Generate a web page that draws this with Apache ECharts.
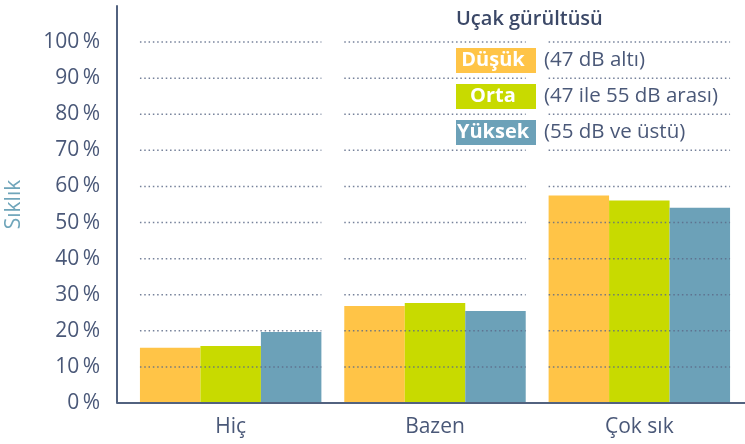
<!DOCTYPE html>
<html>
<head>
<meta charset="utf-8">
<script src="https://cdn.jsdelivr.net/npm/echarts@6/dist/echarts.min.js"></script>
<style>
html,body{margin:0;padding:0;background:#fff;}
#main{width:745px;height:444px;}
</style>
</head>
<body>
<div id="main"></div>
<script>
// kategoriler ve seriler
var categories = ['Hiç', 'Bazen', 'Çok sık'];
var seriesNames = ['Düşük', 'Orta', 'Yüksek'];
var seriesDesc = ['(47 dB altı)', '(47 ile 55 dB arası)', '(55 dB ve üstü)'];
var dusuk = [15.3, 26.9, 57.5];
var orta = [15.8, 27.7, 56.1];
var yuksek = [19.7, 25.5, 54.1];
var yTicks = [10, 20, 30, 40, 50, 60, 70, 80, 90, 100];

var colors = ['#FFC447', '#C8DA00', '#6CA1B8'];
var textCol = '#4a5878';
var font = 'Open Sans';
var catGap = 0.112;

var chart = echarts.init(document.getElementById('main'));

// nokta cizgiler (her kategori icin ayri parca)
var gridData = [];
for (var c = 0; c < categories.length; c++) {
	for (var t = 0; t < yTicks.length; t++) {
		gridData.push([c, yTicks[t]]);
	}
}

var rich = {
	d: {color: textCol, fontSize: 20.5, fontFamily: font, padding: [0, 0, 0, 8]}
};
for (var i = 0; i < seriesNames.length; i++) {
	rich['b' + i] = {
		backgroundColor: colors[i],
		color: '#fff',
		fontWeight: 'bold',
		fontSize: 20,
		fontFamily: font,
		width: 74,
		height: 25,
		lineHeight: 25,
		align: 'right',
		padding: [0, 6, 0, 0]
	};
}

var barSeries = [dusuk, orta, yuksek].map(function (d, i) {
	return {
		name: seriesNames[i],
		type: 'bar',
		data: d,
		barGap: 0,
		barCategoryGap: (catGap * 100) + '%',
		itemStyle: {color: colors[i]},
		z: 2
	};
});

var option = {
	animation: false,
	title: {
		text: 'Uçak gürültüsü',
		left: 456,
		top: 9,
		padding: 0,
		textStyle: {color: '#3b4867', fontSize: 20, fontWeight: 600, fontFamily: font}
	},
	legend: {
		data: seriesNames,
		orient: 'vertical',
		left: 451,
		top: 48,
		padding: 0,
		itemGap: 11,
		itemWidth: 0,
		itemHeight: 25,
		selectedMode: false,
		formatter: function (name) {
			var idx = seriesNames.indexOf(name);
			return '{b' + idx + '|' + name + '}{d|' + seriesDesc[idx] + '}';
		},
		textStyle: {rich: rich}
	},
	grid: {
		left: 128.5,
		right: 3.5,
		top: 6,
		bottom: 41,
		containLabel: false,
		outerBoundsMode: 'none'
	},
	xAxis: {
		type: 'category',
		data: categories,
		axisLine: {show: false},
		axisTick: {show: false},
		axisLabel: {color: textCol, fontSize: 21, fontFamily: font, margin: 14}
	},
	yAxis: {
		type: 'value',
		min: 0,
		max: 110,
		interval: 10,
		offset: 11.5,
		z: 3,
		name: 'Sıklık',
		nameLocation: 'middle',
		nameGap: 92,
		nameTextStyle: {color: '#6fa5ba', fontSize: 21, fontFamily: font},
		axisLine: {show: true, lineStyle: {color: '#52627f', width: 2}},
		axisTick: {show: false},
		splitLine: {show: false},
		axisLabel: {
			color: textCol,
			fontSize: 21,
			fontFamily: font,
			margin: 17,
			formatter: function (v) {
				return v > 100 ? '' : v + '\u2009%';
			}
		}
	},
	series: barSeries.concat([{
		name: 'grid',
		type: 'custom',
		silent: true,
		z: 3,
		data: gridData,
		renderItem: function (params, api) {
			var p = api.coord([api.value(0), api.value(1)]);
			var w = api.size([1, 0])[0] * (1 - catGap);
			return {
				type: 'line',
				shape: {x1: p[0] - w / 2, y1: p[1], x2: p[0] + w / 2, y2: p[1]},
				style: {stroke: '#5d6b88', lineWidth: 1.5, lineDash: [1.5, 2.8], opacity: 0.85}
			};
		}
	}])
};
chart.setOption(option);

// alt eksen cizgisi, y ekseninden sag kenara kadar
var y0 = chart.convertToPixel({yAxisIndex: 0}, 0);
chart.setOption({
	graphic: [{
		type: 'line',
		z: 10,
		shape: {x1: 128.5 - 11.5, y1: y0, x2: 745, y2: y0},
		style: {stroke: '#52627f', lineWidth: 2}
	}]
});
</script>
</body>
</html>
